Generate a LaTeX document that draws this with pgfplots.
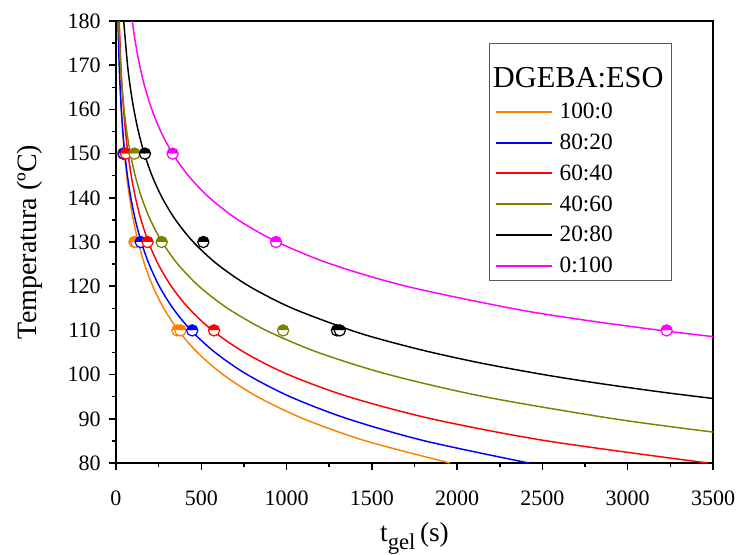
\documentclass[border=0pt]{standalone}
\usepackage{fontspec}
\setmainfont{Liberation Serif}
\usepackage{pgfplots}
\pgfplotsset{compat=1.18}
\definecolor{corange}{RGB}{255,128,0}
\definecolor{cblue}{RGB}{0,0,255}
\definecolor{cred}{RGB}{255,0,0}
\definecolor{colive}{RGB}{128,128,0}
\definecolor{cmag}{RGB}{255,0,255}
\newcommand{\ls}{\hspace{3pt}\rule[-3pt]{0pt}{13.7pt}}
\begin{document}
\begin{tikzpicture}
\begin{axis}[
  scale only axis, width=447.75pt, height=331.5pt,
  xmin=0, xmax=3500, ymin=80, ymax=180,
  xtick={0,500,...,3500}, ytick={80,90,...,180},
  minor x tick num=1, minor y tick num=1,
  tick pos=left, tick align=outside,
  major tick length=5pt, minor tick length=3pt,
  axis line style={line width=1.3pt},
  every tick/.style={line width=1.1pt, black},
  /pgf/number format/assume math mode=true,
  /pgf/number format/1000 sep={},
  xticklabel={\pgfmathprintnumber[assume math mode=true]{\tick}},
  yticklabel={\pgfmathprintnumber[assume math mode=true]{\tick}},
  tick label style={font=\fontsize{16.5}{19}\selectfont},
  xticklabel style={yshift=-12pt},
  yticklabel style={xshift=-3pt},
  xlabel={t\raisebox{-0.3em}{\fontsize{17}{18}\selectfont gel}\,(s)},
  ylabel={Temperatura (ºC)},
  x label style={at={(axis description cs:0.5,-0.17)}, anchor=center, font=\fontsize{20.5}{22}\selectfont},
  y label style={at={(axis description cs:-0.144,0.5)}, anchor=center, font=\fontsize{21}{22}\selectfont},
  legend style={at={(rel axis cs:0.625,0.95)}, anchor=north west, draw=black!65, line width=0.7pt,
    fill=white, font=\fontsize{17.5}{20}\selectfont, inner xsep=4pt, inner ysep=2.5pt, row sep=6pt},
  legend cell align=left,
  legend image code/.code={\draw[#1] (0pt,0pt) -- (42pt,0pt);},
  clip=true,
]
\addlegendimage{empty legend}
\addlegendentry{\hspace{-47pt}\fontsize{22.8}{26}\selectfont\rule[-5.7pt]{0pt}{34.25pt}DGEBA:ESO}
\addlegendimage{corange, line width=1.5pt}\addlegendentry{\ls 100:0}
\addlegendimage{cblue, line width=1.5pt}\addlegendentry{\ls 80:20}
\addlegendimage{cred, line width=1.5pt}\addlegendentry{\ls 60:40}
\addlegendimage{colive, line width=1.5pt}\addlegendentry{\ls 40:60}
\addlegendimage{black, line width=1.5pt}\addlegendentry{\ls 20:80}
\addlegendimage{cmag, line width=1.5pt}\addlegendentry{\ls 0:100}

% fitted curves
\addplot[corange, line width=1.1pt, smooth, forget plot] coordinates {
(13.35,180) (20.33,170) (25.25,165) (31.49,160) (39.45,155) (49.65,150) (62.74,145) (79.64,140) (101.5,135) (130.0,130) (167.2,125) (215.9,120) (280.1,115) (365,110) (477.7,105) (627.9,100) (829.0,95) (1099.5,90) (1463.8,85) (1958,80)};
\addplot[cblue, line width=1.1pt, smooth, forget plot] coordinates {
(11.44,180) (18.74,170) (24.06,165) (30.97,160) (39.96,155) (51.68,150) (66.99,145) (87.06,140) (113.4,135) (148,130) (193.7,125) (254,120) (333.9,115) (440,110) (581.2,105) (769.5,100) (1021.1,95) (1358.2,90) (1810.7,85) (2420,80)};
\addplot[cred, line width=1.1pt, smooth, forget plot] coordinates {
(18.98,180) (28.68,170) (35.57,165) (44.38,160) (55.71,155) (70.35,150) (89.37,145) (114.2,140) (146.9,135) (190,130) (247.2,125) (323.7,120) (426.4,115) (565,110) (753.2,105) (1010.1,100) (1362.9,95) (1849.7,90) (2526,85) (3470,80)};
\addplot[colive, line width=1.1pt, smooth, forget plot] coordinates {
(15.21,180) (26.80,170) (35.63,165) (47.43,160) (63.21,155) (84.32,150) (112.6,145) (150.55,140) (201.5,135) (270,130) (362.2,125) (486.3,120) (653.9,115) (880,110) (1185.6,105) (1599.3,100) (2159.3,95) (2919.3,90) (3500,87)};
\addplot[black, line width=1.1pt, smooth, forget plot] coordinates {
(45.04,180) (67.71,170) (83.88,165) (104.6,160) (131.3,155) (166,150) (211.3,145) (270.7,140) (349.2,135) (453.4,130) (592.8,125) (780.4,120) (1034.2,115) (1380,110) (1598.0,107.5) (1853.7,105) (2153.8,102.5) (2507.1,100) (2834.3,98) (3207.5,96) (3500,94.6)};
\addplot[cmag, line width=1.1pt, smooth, forget plot] coordinates {
(95.36,180) (114.3,175) (138.46,170) (169.5,165) (209.86,160) (262.5,155) (332,150) (424.3,145) (548.2,140) (716,135) (945,130) (1260.8,125) (1700.5,120) (2317.6,115) (2717.0,112.5) (3193,110) (3500,108.6)};

% experimental points
\addplot[only marks, forget plot, mark=halfcircle*, mark size=4.2pt,
  mark options={draw=corange, fill=corange, mark color=white, line width=0.9pt}]
  coordinates {(40,150) (108,130) (118,130) (360,110) (378,110)};
\addplot[only marks, forget plot, mark=halfcircle*, mark size=4.2pt,
  mark options={draw=cblue, fill=cblue, mark color=white, line width=0.9pt}]
  coordinates {(45,150) (145,130) (447,110)};
\addplot[only marks, forget plot, mark=halfcircle*, mark size=4.2pt,
  mark options={draw=cred, fill=cred, mark color=white, line width=0.9pt}]
  coordinates {(58,150) (185,130) (575,110)};
\addplot[only marks, forget plot, mark=halfcircle*, mark size=4.2pt,
  mark options={draw=colive, fill=colive, mark color=white, line width=0.9pt}]
  coordinates {(108,150) (268,130) (980,110)};
\addplot[only marks, forget plot, mark=halfcircle*, mark size=4.2pt,
  mark options={draw=black, fill=black, mark color=white, line width=0.9pt}]
  coordinates {(170,150) (512,130) (1295,110) (1312,110)};
\addplot[only marks, forget plot, mark=halfcircle*, mark size=4.2pt,
  mark options={draw=cmag, fill=cmag, mark color=white, line width=0.9pt}]
  coordinates {(332,150) (938,130) (3228,110)};

\coordinate (bl) at (rel axis cs:0,0);
\coordinate (tr) at (rel axis cs:1,1);
\end{axis}
\pgfresetboundingbox
\path[use as bounding box] ([shift={(-87pt,-68.25pt)}]bl) rectangle ([shift={(22.5pt,15.75pt)}]tr);
\end{tikzpicture}
\end{document}
